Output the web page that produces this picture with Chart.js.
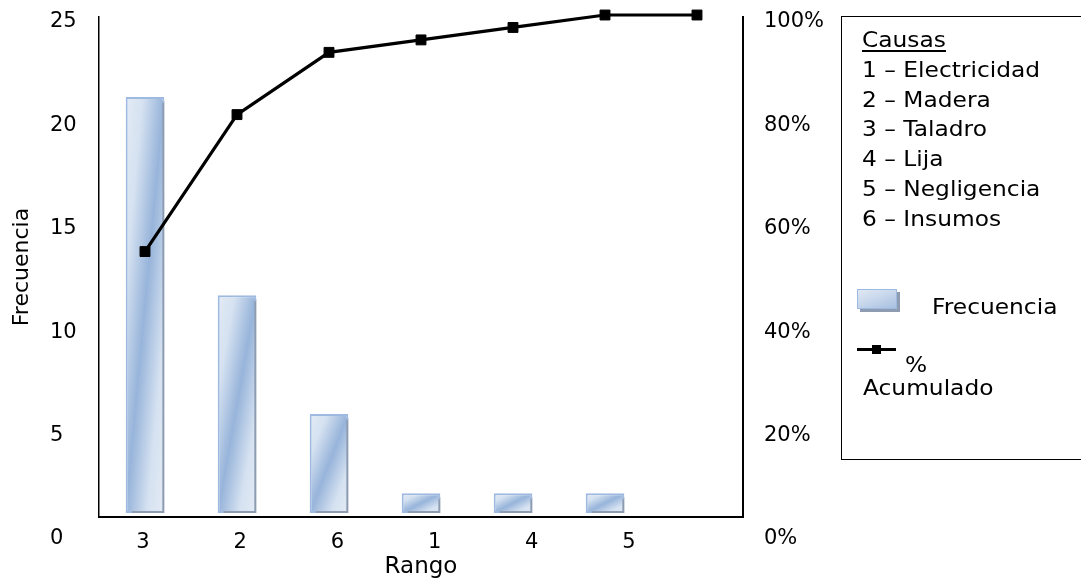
<!DOCTYPE html>
<html><head><meta charset="utf-8">
<script src="https://cdn.jsdelivr.net/npm/chart.js@4.4.1/dist/chart.umd.min.js"></script>
<style>
html,body{margin:0;padding:0;background:#fff;}
#wrap{position:relative;width:1081px;height:581px;overflow:hidden;background:#fff;}
#c{position:absolute;left:0;top:0;}
#legend{position:absolute;left:841px;top:16px;width:270px;height:444px;border:1.5px solid #000;box-sizing:border-box;font-family:"DejaVu Sans";font-size:22px;color:#000;}
#legend .t{position:absolute;white-space:nowrap;transform:scaleX(1.06);transform-origin:0 0;}
#causas{left:20px;top:8px;line-height:29.8px;}
#causas u{text-decoration:underline;text-underline-offset:3px;text-decoration-thickness:1.5px;}
.sw{position:absolute;left:14.5px;top:271.5px;width:40px;height:20px;box-sizing:border-box;border:1.5px solid #9fbae0;
 background:linear-gradient(160deg,#dfe8f3 0%,#c9d8ec 45%,#a7c0e1 100%);box-shadow:3px 3px 0 #8e9cb1;}
.ln{position:absolute;left:14.5px;top:331px;width:39px;height:3px;background:#000;}
.mk{position:absolute;left:30px;top:328px;width:9px;height:9px;background:#000;}
</style></head>
<body>
<div id="wrap">
<canvas id="c" width="1081" height="581"></canvas>
<div id="legend">
  <div class="t" id="causas"></div>
  <div class="sw"></div>
  <div class="t" id="lgBar" style="left:89.5px;top:277px;line-height:26px;"></div>
  <div class="ln"></div><div class="mk"></div>
  <div class="t" style="left:62.5px;top:335px;line-height:26px;">%</div>
  <div class="t" style="left:20.5px;top:358px;line-height:26px;">Acumulado</div>
</div>
</div>
<script>
// ---- data ----
const categories = ['3', '2', '6', '1', '4', '5', ''];
const frecuencia = [21, 11, 5, 1, 1, 1, null];
const acumulado = [52.5, 80, 92.5, 95, 97.5, 100, 100];
const xTickLabels = ['3', '2', '6', '1', '4', '5'];
const leftTicks = [0, 5, 10, 15, 20, 25];
const rightTicks = [0, 20, 40, 60, 80, 100];
const causasTitle = 'Causas';
const causas = ['1 – Electricidad', '2 – Madera', '3 – Taladro', '4 – Lija', '5 – Negligencia', '6 – Insumos'];
const barLabel = 'Frecuencia';
const lineLabel = '% Acumulado';

// ---- legend text ----
document.getElementById('causas').innerHTML = '<u>' + causasTitle + '</u><br>' + causas.join('<br>');
document.getElementById('lgBar').textContent = barLabel;

const FONT = 'DejaVu Sans';
const BAR_FRAC = 0.42;

function noPad(s) { s.paddingTop = 0; s.paddingBottom = 0; s.paddingLeft = 0; s.paddingRight = 0; }

function barFill(ctx) {
  const chart = ctx.chart;
  const fallback = '#c6d6ec';
  if (!chart.chartArea || ctx.type !== 'data' || ctx.raw == null) return fallback;
  const xs = chart.scales.x, ys = chart.scales.y;
  if (!xs || !ys) return fallback;
  const cx = xs.getPixelForValue(ctx.dataIndex);
  const w = xs.width / categories.length * BAR_FRAC;
  const top = ys.getPixelForValue(ctx.raw), bot = ys.getPixelForValue(0);
  const h = Math.max(1, bot - top), cy = (top + bot) / 2;
  const n = Math.hypot(w, h), half = w * h / n, dx = h / n, dy = w / n;
  const g = chart.ctx.createLinearGradient(cx - dx * half, cy - dy * half, cx + dx * half, cy + dy * half);
  g.addColorStop(0, '#e3ebf5');
  g.addColorStop(0.22, '#d6e2f1');
  g.addColorStop(0.5, '#97b4da');
  g.addColorStop(0.78, '#d6e2f1');
  g.addColorStop(1, '#e3ebf5');
  return g;
}

const shadowPlugin = {
  id: 'barShadow',
  beforeDatasetDraw(chart, args) {
    if (args.meta.type === 'bar') {
      const c = chart.ctx; c.save();
      c.shadowColor = '#8e9cb1'; c.shadowOffsetX = 4; c.shadowOffsetY = 4; c.shadowBlur = 0;
    }
  },
  afterDatasetDraw(chart, args) {
    if (args.meta.type === 'bar') chart.ctx.restore();
  }
};

new Chart(document.getElementById('c'), {
  type: 'bar',
  data: {
    labels: categories,
    datasets: [
      {
        type: 'line', label: lineLabel, data: acumulado, xAxisID: 'x', yAxisID: 'y2', order: 0,
        borderColor: '#000', borderWidth: 3.2, tension: 0, clip: false,
        pointStyle: 'rect', pointRadius: 7, pointBackgroundColor: '#000', pointBorderColor: '#000', pointBorderWidth: 1
      },
      {
        type: 'bar', label: barLabel, data: frecuencia, xAxisID: 'x', yAxisID: 'y', order: 1,
        backgroundColor: barFill, borderColor: '#9fbae0', borderWidth: 2, borderSkipped: false,
        categoryPercentage: 1, barPercentage: BAR_FRAC
      }
    ]
  },
  options: {
    responsive: false, animation: false,
    layout: { padding: { left: 9, top: 17, right: 0, bottom: 0 } },
    plugins: { legend: { display: false }, tooltip: { enabled: false } },
    scales: {
      x: { type: 'category', display: false, offset: true },
      y: { type: 'linear', display: false, position: 'left', bounds: 'data', min: -0.2, max: 25.04 },
      y2: { type: 'linear', display: false, position: 'right', bounds: 'data', min: -0.8, max: 99.6 },
      yt: {
        type: 'linear', position: 'left', weight: 2,
        ticks: { display: false }, grid: { display: false, drawTicks: false }, border: { display: false },
        title: { display: true, text: 'Frecuencia', color: '#000', font: { family: FONT, size: 22 }, padding: { top: 0, bottom: 0 } },
        afterFit(s) { s.width = 41; noPad(s); }
      },
      yl: {
        type: 'linear', position: 'left', weight: 1, bounds: 'data', min: 1.0638, max: 25.2418,
        grid: { display: false, drawTicks: false },
        border: { display: true, color: '#000', width: 1.5 },
        ticks: { crossAlign: 'far', padding: 0, color: '#000', autoSkip: false, font: { family: FONT, size: 21 },
          callback: (v, i) => String(leftTicks[i]) },
        afterBuildTicks(s) { s.ticks = leftTicks.map(v => ({ value: v })); },
        afterFit(s) { s.width = 49; noPad(s); }
      },
      yr: {
        type: 'linear', position: 'right', weight: 1, bounds: 'data', min: 4.255, max: 100.967,
        grid: { display: false, drawTicks: false },
        border: { display: true, color: '#000', width: 2 },
        ticks: { crossAlign: 'near', padding: 21, color: '#000', autoSkip: false, font: { family: FONT, size: 21 },
          callback: (v, i) => rightTicks[i] + '%' },
        afterBuildTicks(s) { s.ticks = rightTicks.map(v => ({ value: v })); },
        afterFit(s) { s.width = 338; noPad(s); }
      },
      xl: {
        type: 'linear', position: 'bottom', bounds: 'data', offset: false, min: -0.4527, max: 6.1728,
        grid: { display: false, drawTicks: false, offset: false },
        border: { display: true, color: '#000', width: 2 },
        ticks: { padding: 13, color: '#000', autoSkip: false, maxRotation: 0, font: { family: FONT, size: 21 },
          callback: (v, i) => xTickLabels[i] },
        afterBuildTicks(s) { s.ticks = xTickLabels.map((_, i) => ({ value: i })); },
        title: { display: true, text: 'Rango', color: '#000', font: { family: FONT, size: 23 }, padding: { top: 0, bottom: 0 } },
        afterFit(s) { s.height = 64; noPad(s); }
      }
    }
  },
  plugins: [shadowPlugin]
});
</script>
</body></html>
